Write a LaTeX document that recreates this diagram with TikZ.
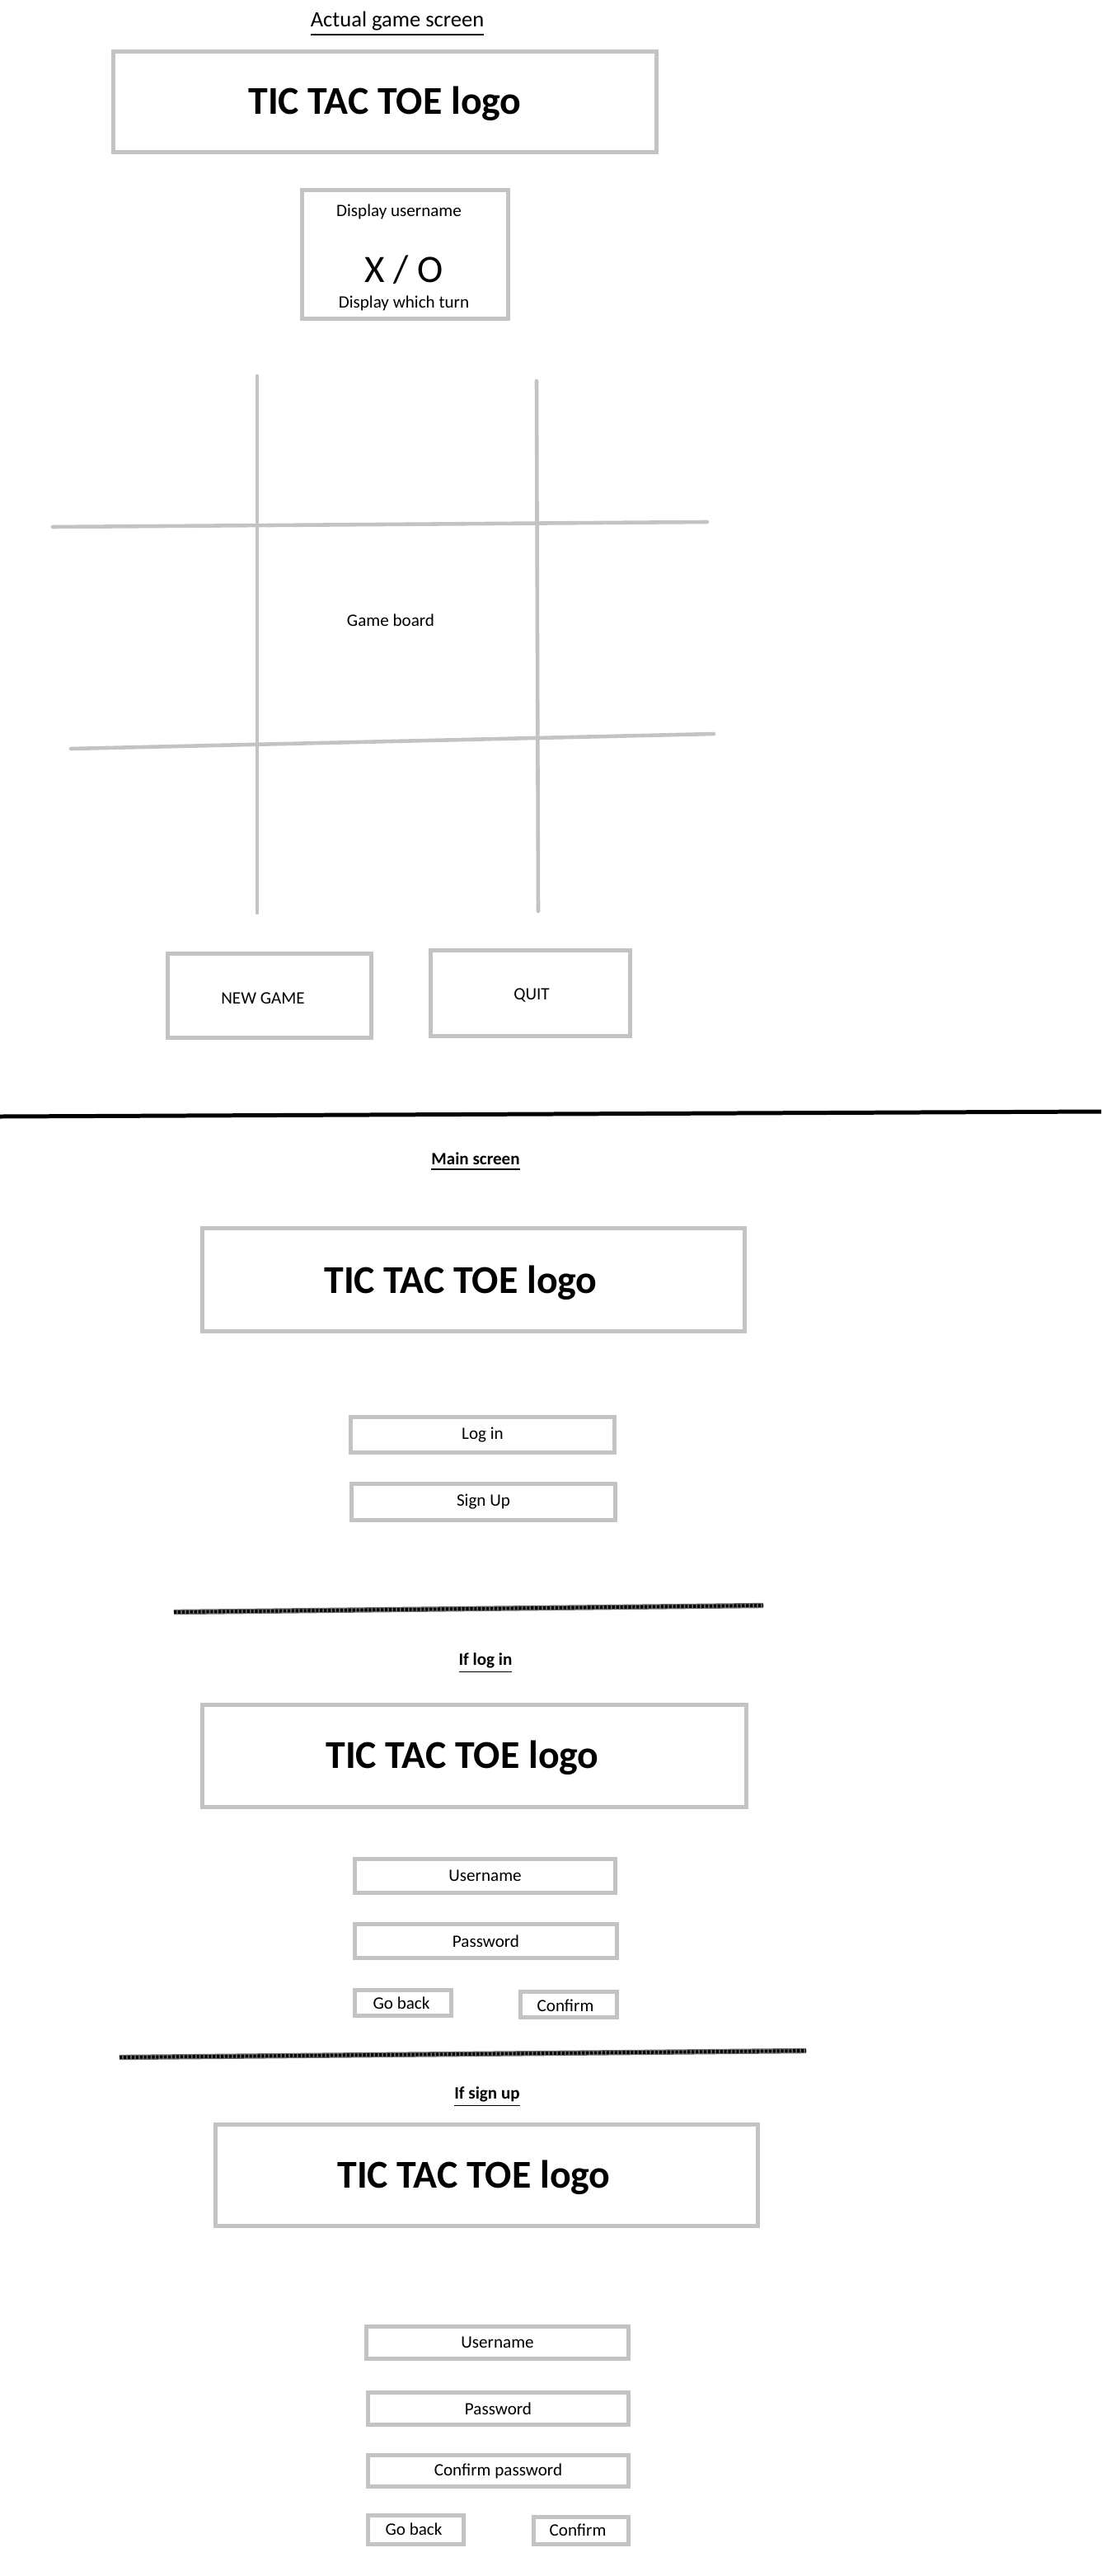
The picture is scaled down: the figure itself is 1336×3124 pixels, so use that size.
\documentclass[tikz,border=0pt]{standalone}
\usepackage{fontspec}
\setmainfont{Carlito}
\definecolor{boxgray}{RGB}{195,195,195}
\definecolor{penline}{RGB}{110,110,110}
\begin{document}
\begin{tikzpicture}[x=0.01cm,y=-0.01cm,
  frame/.style={draw=boxgray,line width=1.42pt,fill=white,inner sep=0pt,rectangle},
  small/.style={inner sep=0pt,font=\fontsize{6}{7}\selectfont},
  logotext/.style={inner sep=0pt,font=\fontsize{13.6}{16}\selectfont\bfseries},
  heading/.style={inner sep=0pt,font=\fontsize{6}{7}\selectfont\bfseries},
  gridline/.style={draw=boxgray,line width=1.3pt,line cap=round},
  rule/.style={draw=black,line width=1.42pt},
  pencil/.style={draw=penline,line width=1.8pt},
  grit/.style={draw=black,line width=1.1pt,dash pattern=on 0.9pt off 0.5pt}]
\useasboundingbox[fill=white] (0,0) rectangle (1336,3124);

% ---------- game screen ----------
\node[inner sep=0pt,font=\fontsize{7.55}{9}\selectfont] (t1) at (482,29) {\underline{Actual game screen}};
\node[frame,minimum width=6.59cm,minimum height=1.22cm] (logoA) at (467,123.5) {};
\node[logotext] (logoAt) at (467,126) {TIC TAC TOE logo};

\node[frame,minimum width=2.50cm,minimum height=1.56cm] (disp) at (491.5,308.5) {};
\node[small] (dispuser) at (484,257) {Display username};
\node[inner sep=0pt,font=\fontsize{13.4}{16}\selectfont] (xo) at (490,327) {X / O};
\node[small] (dispturn) at (490,368) {Display which turn};

% board
\coordinate (v1a) at (312,456);  \coordinate (v1b) at (312,1107);
\coordinate (v2a) at (651,462);  \coordinate (v2b) at (653,1105);
\coordinate (h1a) at (64,639);   \coordinate (h1b) at (858,633);
\coordinate (h2a) at (86,908);   \coordinate (h2b) at (866,890);
\draw[gridline] (v1a) -- (v1b);
\draw[gridline] (v2a) -- (v2b);
\draw[gridline] (h1a) -- (h1b);
\draw[gridline] (h2a) -- (h2b);
\node[small] (board) at (474,752) {Game board};

\node[frame,minimum width=2.47cm,minimum height=1.02cm] (newgame) at (327,1207.5) {};
\node[small] (newgamet) at (319,1211) {NEW GAME};
\node[frame,minimum width=2.42cm,minimum height=1.04cm] (quit) at (643.5,1204.5) {};
\node[small] (quitt) at (645,1207) {QUIT};

\coordinate (r1a) at (0,1354); \coordinate (r1b) at (1336,1348);
\draw[rule] (r1a) -- (r1b);

% ---------- main screen ----------
\node[heading] (t2) at (577,1409) {\underline{Main screen}};
\node[frame,minimum width=6.58cm,minimum height=1.25cm] (logoB) at (574.5,1552) {};
\node[logotext] (logoBt) at (559,1556) {TIC TAC TOE logo};
\node[frame,minimum width=3.20cm,minimum height=0.43cm,font=\fontsize{6}{7}\selectfont] (login) at (585.5,1740) {Log in};
\node[frame,minimum width=3.20cm,minimum height=0.44cm,font=\fontsize{6}{7}\selectfont] (signup) at (586.5,1821.5) {Sign Up};

\coordinate (s1a) at (211,1955); \coordinate (s1b) at (926,1947);
\draw[pencil] (s1a) -- (s1b);
\draw[grit] (s1a) -- (s1b);

% ---------- log in ----------
\node[heading] (t3) at (589,2017) {\underline{If log in}};
\node[frame,minimum width=6.60cm,minimum height=1.24cm] (logoC) at (575.5,2129.5) {};
\node[logotext] (logoCt) at (561,2132) {TIC TAC TOE logo};
\node[frame,minimum width=3.16cm,minimum height=0.41cm,font=\fontsize{6}{7}\selectfont] (user1) at (588.5,2275) {Username};
\node[frame,minimum width=3.18cm,minimum height=0.41cm,font=\fontsize{6}{7}\selectfont] (pass1) at (589.5,2354) {Password};
\node[frame,minimum width=1.17cm,minimum height=0.31cm] (back1) at (489,2429) {};
\node[small] (back1t) at (487,2429) {Go back};
\node[frame,minimum width=1.17cm,minimum height=0.31cm] (conf1) at (690,2431) {};
\node[small] (conf1t) at (686,2432) {Confirm};

\coordinate (s2a) at (145,2495); \coordinate (s2b) at (978,2487);
\draw[pencil] (s2a) -- (s2b);
\draw[grit] (s2a) -- (s2b);

% ---------- sign up ----------
\node[heading] (t4) at (591,2543) {\underline{If sign up}};
\node[frame,minimum width=6.58cm,minimum height=1.23cm] (logoD) at (590.5,2638) {};
\node[logotext] (logoDt) at (575,2641) {TIC TAC TOE logo};
\node[frame,minimum width=3.18cm,minimum height=0.39cm,font=\fontsize{6}{7}\selectfont] (user2) at (603.5,2841) {Username};
\node[frame,minimum width=3.16cm,minimum height=0.39cm,font=\fontsize{6}{7}\selectfont] (pass2) at (604.5,2921) {Password};
\node[frame,minimum width=3.16cm,minimum height=0.38cm,font=\fontsize{6}{7}\selectfont] (cpass) at (604.5,2996.5) {Confirm password};
\node[frame,minimum width=1.16cm,minimum height=0.35cm] (back2) at (504.5,3068) {};
\node[small] (back2t) at (502,3067) {Go back};
\node[frame,minimum width=1.15cm,minimum height=0.33cm] (conf2) at (705,3069) {};
\node[small] (conf2t) at (701,3068) {Confirm};
\end{tikzpicture}
\end{document}
